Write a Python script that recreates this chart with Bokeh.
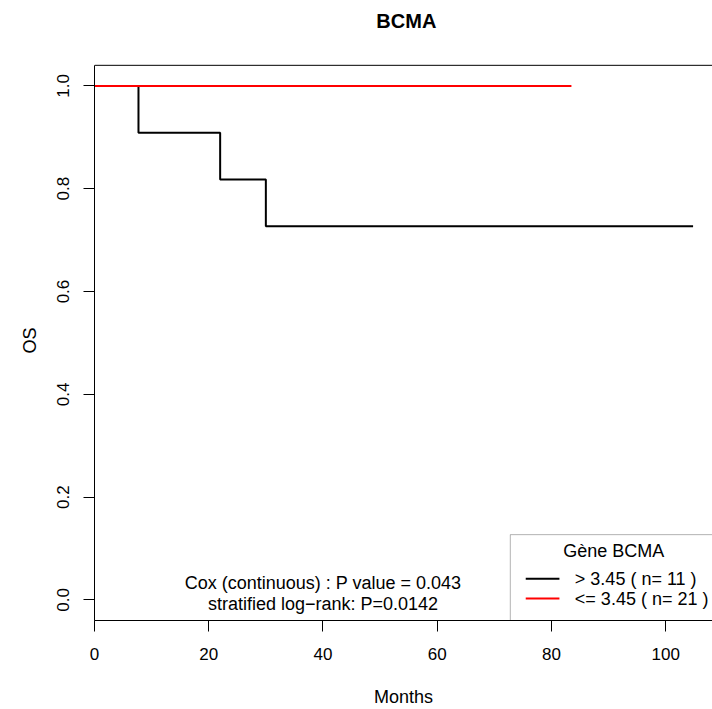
from bokeh.plotting import figure
from bokeh.models import Range1d, FixedTicker, Label, BoxAnnotation, ColumnDataSource, Title
from bokeh.embed import file_html
from bokeh.resources import INLINE

# ---- data ----
high_months = [0.0, 7.7, 22.0, 30.0, 104.8]
high_surv = [1.0, 0.909, 0.818, 0.727, 0.727]
low_months = [0.0, 83.5]
low_surv = [1.0, 1.0]

x_ticks = [0, 20, 40, 60, 80, 100]
y_ticks = [0.0, 0.2, 0.4, 0.6, 0.8, 1.0]
y_tick_labels = ["0.0", "0.2", "0.4", "0.6", "0.8", "1.0"]

chart_title = "BCMA"
x_label = "Months"
y_label = "OS"
legend_title = "Gène BCMA"
legend_labels = ["> 3.45 ( n= 11 )", "<= 3.45 ( n= 21 )"]
series_colors = ["#000000", "#FF0000"]
stats_lines = ["Cox (continuous) : P value = 0.043", "stratified log\u2212rank: P=0.0142"]

FONT = "Liberation Sans"

# plotting box spans y in [-0.04, 1.04]; the frame extends above it to hold the title
BOX_BOTTOM, BOX_TOP = -0.04, 1.04
p = figure(width=712, height=709, output_backend="svg", toolbar_location=None,
           x_range=Range1d(0, 108.2), y_range=Range1d(BOX_BOTTOM, 1.1661),
           min_border_left=94, min_border_right=0, min_border_top=0, min_border_bottom=87)
p.title.text = ""
p.title.visible = False

p.grid.visible = False
p.outline_line_color = None

for ax in (p.xaxis[0], p.yaxis[0]):
    ax.minor_tick_line_color = None
    ax.major_tick_in = 0
    ax.major_tick_out = 11
    ax.major_tick_line_color = "black"
    ax.axis_line_color = "black"
    ax.major_label_text_font = FONT
    ax.major_label_text_font_size = "17px"
    ax.major_label_text_color = "black"
    ax.axis_label_text_font = FONT
    ax.axis_label_text_font_size = "18px"
    ax.axis_label_text_font_style = "normal"
    ax.axis_label_text_color = "black"

p.xaxis.ticker = FixedTicker(ticks=x_ticks)
p.xaxis.axis_label = x_label
p.xaxis.major_label_standoff = 16
p.xaxis.axis_label_standoff = 24

p.yaxis.ticker = FixedTicker(ticks=y_ticks)
p.yaxis.bounds = (BOX_BOTTOM, BOX_TOP)
p.yaxis.major_label_overrides = {t: l for t, l in zip(y_ticks, y_tick_labels)}
p.yaxis.major_label_orientation = "vertical"
p.yaxis.major_label_standoff = 14

# y-axis title, placed next to the plotting box (not the taller frame)
p.add_layout(Title(text=y_label, align="left", offset=267, vertical_align="bottom", standoff=30,
                   text_font=FONT, text_font_size="18px", text_font_style="normal",
                   text_color="black"), "left")

# plotting box (R's box())
p.add_layout(BoxAnnotation(top=BOX_TOP, fill_alpha=0, line_color="black", line_width=1,
                           line_alpha=1, level="overlay"))

# title, centred above the plotting box
p.add_layout(Label(x=54.6, y=1.127, text=chart_title, text_align="center", text_baseline="middle",
                   text_font=FONT, text_font_size="20px", text_font_style="bold", text_color="black"))

# survival curves
p.step(high_months, high_surv, mode="after", line_color=series_colors[0], line_width=2)
p.step(low_months, low_surv, mode="after", line_color=series_colors[1], line_width=2)

# stats text
for txt, yy in zip(stats_lines, [0.032, -0.007]):
    p.add_layout(Label(x=40, y=yy, text=txt, text_align="center", text_baseline="middle",
                       text_font=FONT, text_font_size="18px", text_color="black"))

# legend (drawn like R's legend box in the bottom-right corner)
box = BoxAnnotation(left=72.8, top=0.127, fill_color="white", fill_alpha=1.0,
                    line_color="black", line_width=1, level="underlay")
p.add_layout(box)
p.add_layout(Label(x=90.9, y=0.096, text=legend_title, text_align="center", text_baseline="middle",
                   text_font=FONT, text_font_size="18px", text_color="black"))
leg_y = [0.041, 0.0026]
src = ColumnDataSource(dict(x0=[75.5, 75.5], x1=[81.4, 81.4], y=leg_y, c=series_colors))
p.segment(x0="x0", x1="x1", y0="y", y1="y", line_color="c", line_width=2, source=src)
for lab, yy in zip(legend_labels, leg_y):
    p.add_layout(Label(x=84.1, y=yy, text=lab, text_align="left", text_baseline="middle",
                       text_font=FONT, text_font_size="18px", text_color="black"))

open("out.html", "w").write(file_html(p, INLINE))
